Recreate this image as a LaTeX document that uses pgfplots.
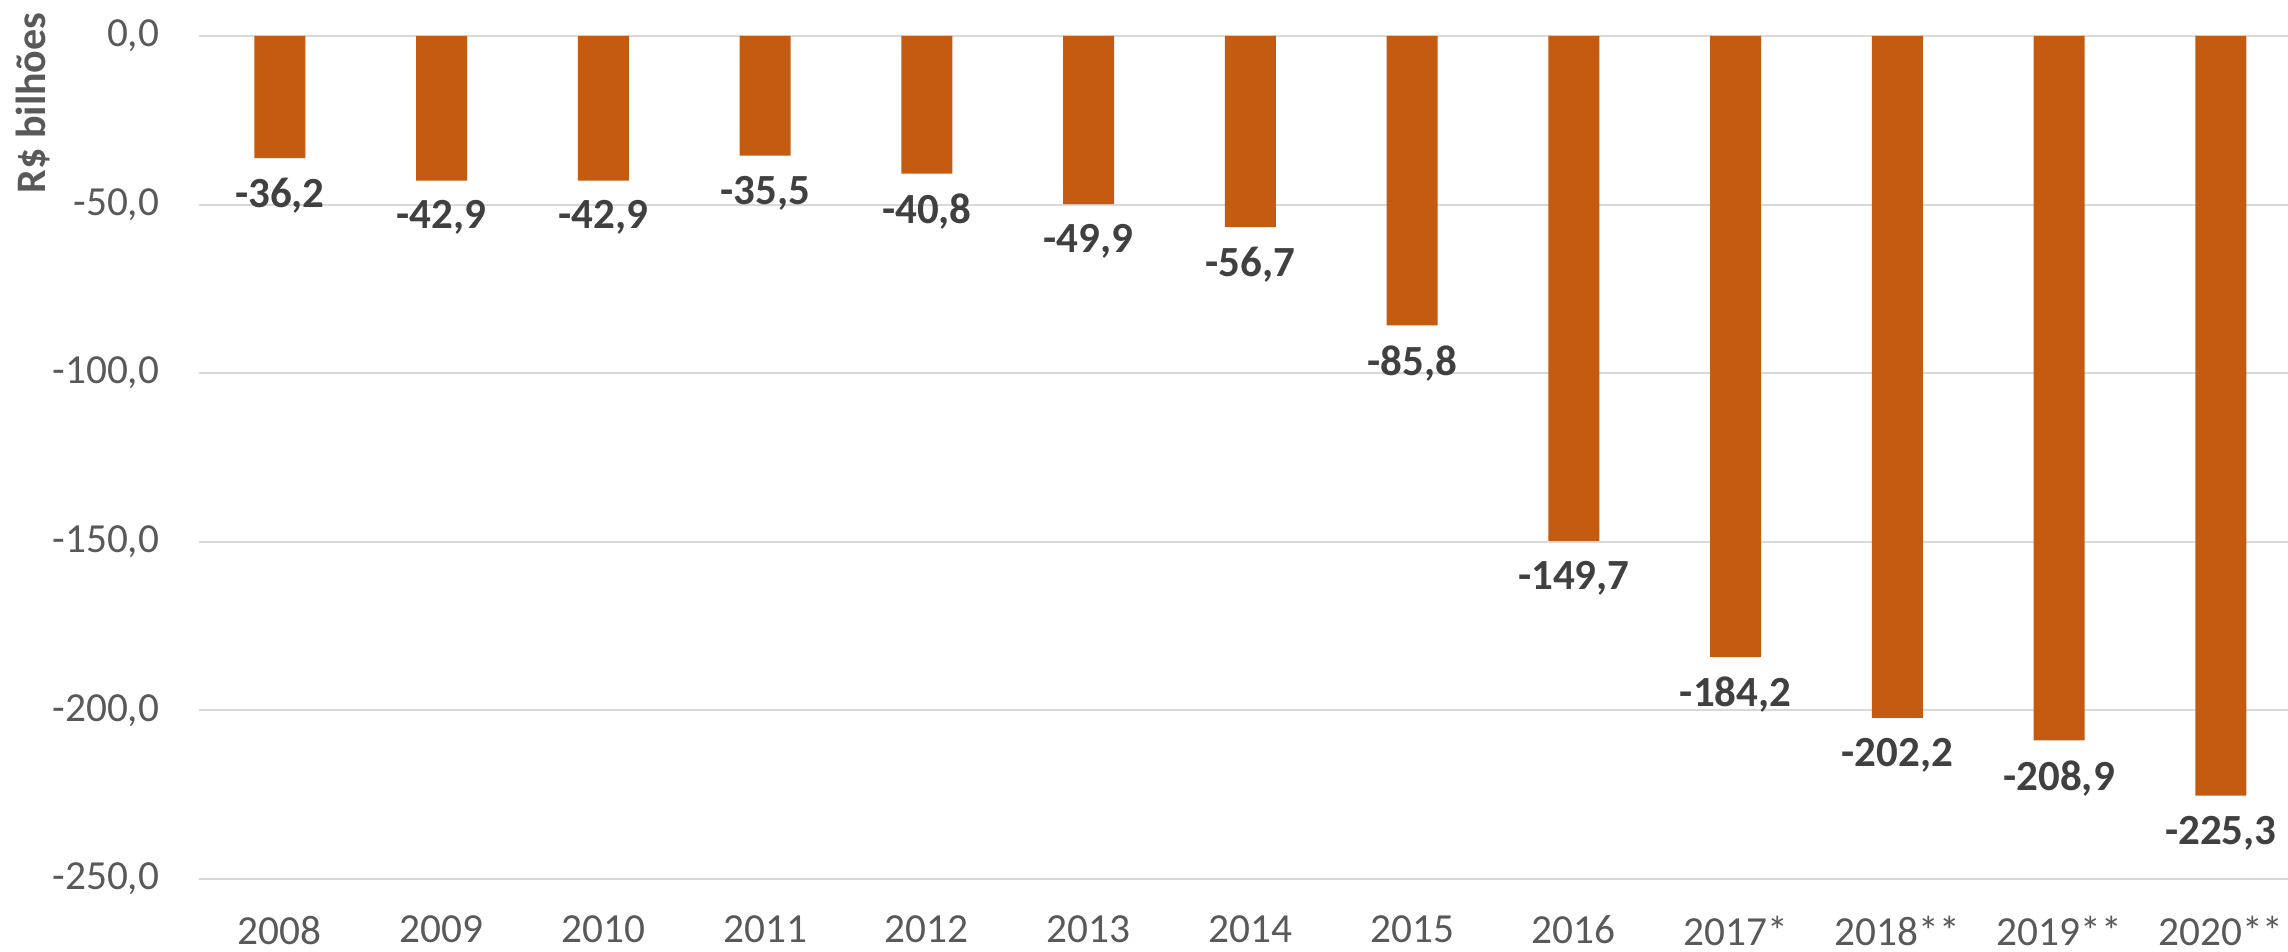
\documentclass[border=0pt]{standalone}
\usepackage{pgfplots}
\pgfplotsset{compat=1.18}
\usepackage{fontspec}
\setmainfont{Carlito}
\definecolor{barc}{RGB}{197,90,17}
\definecolor{tickc}{RGB}{89,89,89}
\definecolor{labc}{RGB}{64,64,64}
\definecolor{gridc}{RGB}{217,217,217}
\begin{document}
\begin{tikzpicture}
\begin{axis}[
  scale only axis,
  width=626.7pt, height=252.9pt,
  ybar, bar width=15.3pt,
  xmin=-0.5, xmax=12.415,
  ymin=-250, ymax=0,
  ytick={-250,-200,-150,-100,-50,0},
  xtick={0,1,2,3,4,5,6,7,8,9,10,11,12},
  xticklabels={2008,2009,2010,2011,2012,2013,2014,2015,2016,2017*,2018**,2019**,2020**},
  axis line style={draw=none},
  major tick length=0pt,
  ymajorgrids, grid style={gridc, line width=0.6pt},
  /pgf/number format/.cd, fixed, fixed zerofill, precision=1, use comma, assume math mode=true,
  /pgfplots/.cd,
  tick label style={font=\fontsize{12.4}{15}\selectfont, text=tickc},
  xticklabel style={yshift=-7.5pt},
  yticklabel style={xshift=-8.4pt},
  nodes near coords,
  nodes near coords style={font=\fontsize{12.9}{15}\selectfont\bfseries, text=labc, yshift=-2.5pt},
  clip=false,
]
\addplot[fill=barc, draw=none] coordinates {
(0,-36.2) (1,-42.9) (2,-42.9) (3,-35.5) (4,-40.8) (5,-49.9) (6,-56.7)
(7,-85.8) (8,-149.7) (9,-184.2) (10,-202.2) (11,-208.9) (12,-225.3)};
\node[rotate=90, font=\fontsize{12.6}{15}\selectfont\bfseries, text=tickc] at (rel axis cs:-0.0795,0.9205) {R\$ bilhões};
\coordinate (bl) at (rel axis cs:0,0);
\coordinate (tr) at (rel axis cs:1,1);
\end{axis}
\pgfresetboundingbox
\path[use as bounding box] ([xshift=-59.7pt, yshift=-21.9pt]bl) rectangle ([yshift=10.8pt]tr);
\end{tikzpicture}
\end{document}
